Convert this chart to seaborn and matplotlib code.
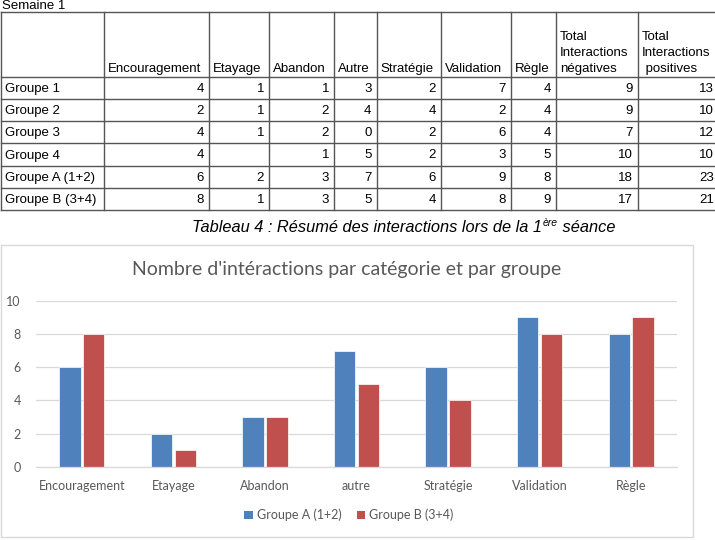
import matplotlib
matplotlib.use("Agg")
import matplotlib.pyplot as plt
import seaborn as sns
import pandas as pd
from matplotlib.patches import Patch, Rectangle
from matplotlib.lines import Line2D

# ---------------- data ----------------
week_label = "Semaine 1"
table_headers = ["Encouragement", "Etayage", "Abandon", "Autre", "Stratégie",
                 "Validation", "Règle", "Total\nInteractions\nnégatives",
                 "Total\nInteractions\n positives"]
table_groups = ["Groupe 1", "Groupe 2", "Groupe 3", "Groupe 4",
                "Groupe A (1+2)", "Groupe B (3+4)"]
encouragement = [4, 2, 4, 4, 6, 8]
etayage = [1, 1, 1, None, 2, 1]
abandon = [1, 2, 2, 1, 3, 3]
autre = [3, 4, 0, 5, 7, 5]
strategie = [2, 4, 2, 2, 6, 4]
validation = [7, 2, 6, 3, 9, 8]
regle = [4, 4, 4, 5, 8, 9]
total_negatives = [9, 9, 7, 10, 18, 17]
total_positives = [13, 10, 12, 10, 23, 21]

caption_main = "Tableau 4 : Résumé des interactions lors de la 1"
caption_sup = "ère"
caption_end = " séance"

chart_title = "Nombre d'intéractions par catégorie et par groupe"
chart_categories = ["Encouragement", "Etayage", "Abandon", "autre",
                    "Stratégie", "Validation", "Règle"]
series_names = ["Groupe A (1+2)", "Groupe B (3+4)"]
groupe_a = [6, 2, 3, 7, 6, 9, 8]
groupe_b = [8, 1, 3, 5, 4, 8, 9]
y_ticks = [0, 2, 4, 6, 8, 10]

# ---------------- figure ----------------
W, H = 715, 540
fig = plt.figure(figsize=(W / 100, H / 100), dpi=100)
fig.patch.set_facecolor("white")

def fx(x):
    return x / W

def fy(y):
    return 1 - y / H

TABLE_FONT = "Liberation Sans"
CHART_FONT = "Lato"
line_col = "#555555"

# ---------------- table ----------------
fig.text(fx(2), fy(9), week_label, fontsize=9.5, family=TABLE_FONT,
         ha="left", va="baseline", color="black")

col_x = [0.5, 104, 209, 269, 334, 376.5, 441, 511, 556, 638, 722]
row_y = [12, 77, 99, 121, 143, 166, 188, 210]

for yy in row_y:
    fig.add_artist(Line2D([fx(col_x[0]), fx(col_x[-1])], [fy(yy), fy(yy)],
                          color=line_col, lw=1.0, transform=fig.transFigure))
for xx in col_x:
    fig.add_artist(Line2D([fx(xx), fx(xx)], [fy(row_y[0]), fy(row_y[-1])],
                          color=line_col, lw=1.0, transform=fig.transFigure))

# headers (left aligned, bottom anchored)
for i, h in enumerate(table_headers):
    fig.text(fx(col_x[i + 1] + 4), fy(75), h, fontsize=9.5, family=TABLE_FONT,
             ha="left", va="bottom", linespacing=1.45, color="black")

columns = [encouragement, etayage, abandon, autre, strategie, validation,
           regle, total_negatives, total_positives]
for r, g in enumerate(table_groups):
    yc = (row_y[r + 1] + row_y[r + 2]) / 2 + 1
    fig.text(fx(5), fy(yc), g, fontsize=9.5, family=TABLE_FONT,
             ha="left", va="center", color="black")
    for c, col in enumerate(columns):
        v = col[r]
        if v is None:
            continue
        right = min(col_x[c + 2] - 5, 714)
        fig.text(fx(right), fy(yc), str(v), fontsize=9.5,
                 family=TABLE_FONT, ha="right", va="center", color="black")

# caption with superscript
renderer = fig.canvas.get_renderer()
cap_y = fy(232)
t1 = fig.text(fx(192), cap_y, caption_main, fontsize=11.8, family=TABLE_FONT,
              style="italic", ha="left", va="baseline")
bb = t1.get_window_extent(renderer)
t2 = fig.text(bb.x1 / W + 0.001, cap_y + 6 / H, caption_sup, fontsize=7.5,
              family=TABLE_FONT, style="italic", ha="left", va="baseline")
bb2 = t2.get_window_extent(renderer)
fig.text(bb2.x1 / W, cap_y, caption_end, fontsize=11.8, family=TABLE_FONT,
         style="italic", ha="left", va="baseline")

# ---------------- chart ----------------
fig.add_artist(Rectangle((fx(1), fy(537)), fx(692), 292 / H,
                         transform=fig.transFigure, facecolor="none",
                         edgecolor="#D9D9D9", lw=1.0))

fig.text(fx(347), fy(270), chart_title, fontsize=14, family=CHART_FONT,
         color="#595959", ha="center", va="center")

df = pd.DataFrame({
    "categorie": chart_categories * 2,
    "valeur": groupe_a + groupe_b,
    "groupe": [series_names[0]] * len(chart_categories)
              + [series_names[1]] * len(chart_categories),
})

ax = fig.add_axes([fx(36), fy(467), fx(641), 166.3 / H])
sns.barplot(data=df, x="categorie", y="valeur", hue="groupe",
            hue_order=series_names, palette=["#4F81BD", "#C0504D"],
            saturation=1, width=0.52, gap=0.1, ax=ax, legend=False,
            edgecolor="white", linewidth=0.5)
ax.set_xlim(-0.5, len(chart_categories) - 0.5)
ax.set_ylim(0, 10)
ax.set_yticks(y_ticks)
ax.set_xlabel("")
ax.set_ylabel("")
ax.set_facecolor("none")
ax.grid(axis="y", color="#D9D9D9", lw=0.9)
ax.set_axisbelow(True)
for s in ["top", "right", "left"]:
    ax.spines[s].set_visible(False)
ax.spines["bottom"].set_color("#D9D9D9")
ax.spines["bottom"].set_linewidth(0.9)
ax.tick_params(axis="both", length=0, colors="#595959", labelsize=9)
ax.tick_params(axis="y", pad=11)
ax.tick_params(axis="x", pad=9)
for lab in ax.get_xticklabels() + ax.get_yticklabels():
    lab.set_family(CHART_FONT)

handles = [Patch(facecolor="#4F81BD", edgecolor="none"),
           Patch(facecolor="#C0504D", edgecolor="none")]
leg = fig.legend(handles, series_names, loc="center",
                 bbox_to_anchor=(fx(349), fy(515)), ncol=2, frameon=False,
                 handlelength=0.7, handleheight=0.7, handletextpad=0.3,
                 columnspacing=1.2, prop={"family": CHART_FONT, "size": 9})
for t in leg.get_texts():
    t.set_color("#595959")

fig.savefig("out.png", dpi=100, facecolor="white")
